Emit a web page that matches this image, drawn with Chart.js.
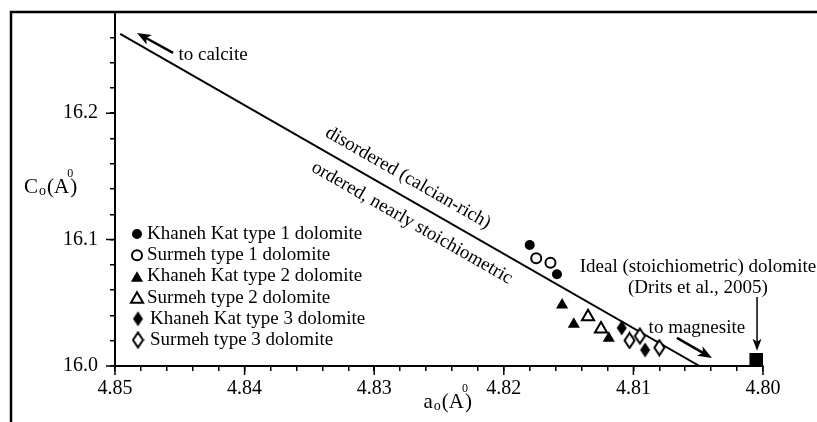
<!DOCTYPE html>
<html>
<head>
<meta charset="utf-8">
<script src="https://cdn.jsdelivr.net/npm/chart.js"></script>
<style>
  body { margin: 0; background: #fff; }
  canvas { display: block; }
</style>
</head>
<body>
<canvas id="chart" width="817" height="422"></canvas>
<script>
// valores (a0, c0 en Angstrom)
const khaneh1X = [4.8180, 4.8159];
const khaneh1Y = [16.0957, 16.0725];
const surmeh1X = [4.8175, 4.8164];
const surmeh1Y = [16.0852, 16.0817];
const khaneh2X = [4.8155, 4.8146, 4.8119];
const khaneh2Y = [16.0483, 16.0330, 16.0219];
const surmeh2X = [4.8135, 4.8125];
const surmeh2Y = [16.0390, 16.0293];
const khaneh3X = [4.8109, 4.8091];
const khaneh3Y = [16.0301, 16.0127];
const surmeh3X = [4.8103, 4.8095, 4.8080];
const surmeh3Y = [16.0202, 16.0237, 16.0145];
const idealX = [4.8005];
const idealY = [16.0047];
const lineX = [4.8496, 4.8049];
const lineY = [16.2627, 16.0];

const seriesLabels = [
  'Khaneh Kat type 1 dolomite',
  'Surmeh type 1 dolomite',
  'Khaneh Kat type 2 dolomite',
  'Surmeh type 2 dolomite',
  'Khaneh Kat type 3 dolomite',
  'Surmeh type 3 dolomite'
];
const xMajorTicks = [4.85, 4.84, 4.83, 4.82, 4.81, 4.80];
const yMajorTicks = [16.0, 16.1, 16.2];

const FONT = '"Liberation Serif", "Times New Roman", serif';

function pts(xs, ys) {
  return xs.map((x, i) => ({ x: x, y: ys[i] }));
}

// rombo alargado como imagen para pointStyle
function diamond(filled) {
  const c = document.createElement('canvas');
  c.width = 13; c.height = 18;
  const g = c.getContext('2d');
  g.beginPath();
  g.moveTo(6.5, 1.5); g.lineTo(11.5, 9); g.lineTo(6.5, 16.5); g.lineTo(1.5, 9);
  g.closePath();
  if (filled) {
    g.fillStyle = '#000'; g.fill();
  } else {
    g.fillStyle = '#fff'; g.fill();
    g.lineWidth = 2; g.strokeStyle = '#000'; g.stroke();
  }
  return c;
}
const filledDiamond = diamond(true);
const openDiamond = diamond(false);

const markerStyles = [
  { pointStyle: 'circle', radius: 5, fill: '#000', border: 0 },
  { pointStyle: 'circle', radius: 5, fill: '#fff', border: 2 },
  { pointStyle: 'triangle', radius: 7, fill: '#000', border: 0 },
  { pointStyle: 'triangle', radius: 7, fill: '#fff', border: 2 },
  { pointStyle: filledDiamond, radius: 6, fill: '#000', border: 0 },
  { pointStyle: openDiamond, radius: 6, fill: '#fff', border: 0 }
];
const seriesData = [
  pts(khaneh1X, khaneh1Y), pts(surmeh1X, surmeh1Y), pts(khaneh2X, khaneh2Y),
  pts(surmeh2X, surmeh2Y), pts(khaneh3X, khaneh3Y), pts(surmeh3X, surmeh3Y)
];

const datasets = seriesLabels.map((label, i) => ({
  label: label,
  data: seriesData[i],
  pointStyle: markerStyles[i].pointStyle,
  pointRadius: markerStyles[i].radius,
  pointBackgroundColor: markerStyles[i].fill,
  pointBorderColor: '#000',
  pointBorderWidth: markerStyles[i].border,
  order: 1
}));
datasets.push({
  label: 'Ideal',
  data: pts(idealX, idealY),
  pointStyle: 'rect',
  pointRadius: 10,
  pointBackgroundColor: '#000',
  pointBorderWidth: 0,
  order: 1
});
datasets.push({
  type: 'line',
  label: 'boundary',
  data: pts(lineX, lineY),
  borderColor: '#000',
  borderWidth: 2,
  pointRadius: 0,
  fill: false,
  order: 10
});

function drawArrow(ctx, x1, y1, x2, y2, lw, headLen, headW) {
  const ang = Math.atan2(y2 - y1, x2 - x1);
  ctx.save();
  ctx.strokeStyle = '#000';
  ctx.fillStyle = '#000';
  ctx.lineWidth = lw;
  ctx.beginPath();
  ctx.moveTo(x1, y1);
  ctx.lineTo(x2 - Math.cos(ang) * headLen * 0.7, y2 - Math.sin(ang) * headLen * 0.7);
  ctx.stroke();
  ctx.translate(x2, y2);
  ctx.rotate(ang);
  ctx.beginPath();
  ctx.moveTo(0, 0);
  ctx.lineTo(-headLen, -headW / 2);
  ctx.lineTo(-headLen * 0.75, 0);
  ctx.lineTo(-headLen, headW / 2);
  ctx.closePath();
  ctx.fill();
  ctx.restore();
}

// titulo tipo "Co (A°)" con subindice y el 0 encima
function unitTitle(ctx, letter, x, base) {
  ctx.save();
  ctx.fillStyle = '#000';
  ctx.textAlign = 'left';
  ctx.textBaseline = 'alphabetic';
  ctx.font = '21px ' + FONT;
  ctx.fillText(letter, x, base);
  x += ctx.measureText(letter).width + 1;
  ctx.font = '14px ' + FONT;
  ctx.fillText('o', x, base + 2);
  x += ctx.measureText('o').width + 1;
  ctx.font = '21px ' + FONT;
  ctx.fillText('(A', x, base);
  x += ctx.measureText('(A').width;
  ctx.font = '12px ' + FONT;
  ctx.fillText('0', x - 2, base - 16);
  ctx.font = '21px ' + FONT;
  ctx.fillText(')', x + 1, base);
  ctx.restore();
}

function drawMarker(ctx, st, x, y) {
  ctx.save();
  if (typeof st.pointStyle !== 'string') {
    ctx.drawImage(st.pointStyle, x - st.pointStyle.width / 2, y - st.pointStyle.height / 2);
    ctx.restore();
    return;
  }
  const r = st.radius;
  ctx.beginPath();
  if (st.pointStyle === 'circle') {
    ctx.arc(x, y, r, 0, Math.PI * 2);
  } else {
    for (let k = 0; k < 3; k++) {
      const a = -Math.PI / 2 + k * 2 * Math.PI / 3;
      const px = x + Math.cos(a) * r, py = y + r * 0.25 + Math.sin(a) * r;
      if (k === 0) ctx.moveTo(px, py); else ctx.lineTo(px, py);
    }
    ctx.closePath();
  }
  ctx.fillStyle = st.fill;
  ctx.fill();
  if (st.border > 0) {
    ctx.lineWidth = st.border;
    ctx.strokeStyle = '#000';
    ctx.stroke();
  }
  ctx.restore();
}

const decorPlugin = {
  id: 'decor',
  beforeDraw(chart) {
    const ctx = chart.ctx;
    ctx.save();
    ctx.fillStyle = '#fff';
    ctx.fillRect(0, 0, chart.width, chart.height);
    ctx.restore();
  },
  afterDraw(chart) {
    const ctx = chart.ctx;
    const xs = chart.scales.x, ys = chart.scales.y;
    const X = v => xs.getPixelForValue(v);
    const Y = v => ys.getPixelForValue(v);
    const area = chart.chartArea;

    // marco exterior
    ctx.save();
    ctx.strokeStyle = '#000';
    ctx.lineWidth = 2.5;
    ctx.beginPath();
    ctx.moveTo(11, chart.height);
    ctx.lineTo(11, 12);
    ctx.lineTo(chart.width, 12);
    ctx.stroke();

    // ticks mayores mas largos
    ctx.lineWidth = 1.5;
    ctx.beginPath();
    xMajorTicks.forEach(v => { ctx.moveTo(X(v), area.bottom); ctx.lineTo(X(v), area.bottom + 9); });
    yMajorTicks.forEach(v => { ctx.moveTo(area.left, Y(v)); ctx.lineTo(area.left - 9, Y(v)); });
    ctx.stroke();
    ctx.restore();

    // flechas
    drawArrow(ctx, X(4.84552), Y(16.2476), X(4.8483), Y(16.2634), 2.5, 14, 11);
    drawArrow(ctx, X(4.80664), Y(16.0222), X(4.80394), Y(16.0063), 2.5, 14, 11);
    drawArrow(ctx, X(4.80046), Y(16.0546), X(4.80046), Y(16.0120), 1.5, 12, 9);

    ctx.save();
    ctx.fillStyle = '#000';
    ctx.font = '19px ' + FONT;
    ctx.textBaseline = 'middle';
    ctx.textAlign = 'left';
    ctx.fillText('to calcite', X(4.8451), Y(16.246));
    ctx.textAlign = 'center';
    ctx.fillText('to magnesite', X(4.8051), Y(16.030));
    ctx.fillText('Ideal (stoichiometric) dolomite', X(4.80502), Y(16.0783));
    ctx.fillText('(Drits et al., 2005)', X(4.80502), Y(16.0617));

    // textos a lo largo de la recta
    const ang = Math.atan2(Y(lineY[1]) - Y(lineY[0]), X(lineX[1]) - X(lineX[0]));
    ctx.save();
    ctx.translate(X(4.82739), Y(16.1487));
    ctx.rotate(ang);
    ctx.fillText('disordered (calcian-rich)', 0, 0);
    ctx.restore();
    ctx.save();
    ctx.translate(X(4.82708), Y(16.1131));
    ctx.rotate(ang);
    ctx.fillText('ordered, nearly stoichiometric', 0, 0);
    ctx.restore();

    // leyenda
    ctx.textAlign = 'left';
    const lx = area.left + 22, ly = area.top + 222, step = 21.2;
    seriesLabels.forEach((label, i) => {
      const st = markerStyles[i];
      const yy = ly + i * step;
      drawMarker(ctx, st, lx + (i >= 4 ? 1 : 0), yy);
      ctx.fillText(label, lx + (i >= 4 ? 13 : 10), yy);
    });
    ctx.restore();

    unitTitle(ctx, 'C', 24, Y(16.137));
    unitTitle(ctx, 'a', X(4.8262), area.bottom + 42);
  }
};

new Chart(document.getElementById('chart'), {
  type: 'scatter',
  data: { datasets: datasets },
  options: {
    responsive: false,
    animation: false,
    devicePixelRatio: 1,
    layout: { padding: { left: 0, top: 12, right: 54, bottom: 0 } },
    plugins: { legend: { display: false }, tooltip: { enabled: false } },
    scales: {
      x: {
        type: 'linear',
        min: 4.80,
        max: 4.85,
        reverse: true,
        afterFit(scale) {
          scale.height = 56;
          scale.paddingLeft = 0; scale.paddingRight = 0;
          scale.paddingTop = 0; scale.paddingBottom = 0;
        },
        border: { display: true, color: '#000', width: 2 },
        grid: { display: true, drawOnChartArea: false, drawTicks: true, tickLength: 5, color: '#000', lineWidth: 1.5 },
        ticks: {
          stepSize: 0.002,
          autoSkip: false,
          maxRotation: 0,
          padding: 6,
          color: '#000',
          font: { family: FONT, size: 20 },
          callback(v) {
            return Math.abs(v * 100 - Math.round(v * 100)) < 1e-6 ? v.toFixed(2) : '';
          }
        }
      },
      y: {
        type: 'linear',
        min: 16.0,
        max: 16.28,
        afterFit(scale) {
          scale.width = 115;
          scale.paddingTop = 0; scale.paddingBottom = 0;
          scale.paddingLeft = 0; scale.paddingRight = 0;
        },
        border: { display: true, color: '#000', width: 2 },
        grid: { display: true, drawOnChartArea: false, drawTicks: true, tickLength: 5, color: '#000', lineWidth: 1.5 },
        ticks: {
          stepSize: 0.02,
          autoSkip: false,
          padding: 12,
          color: '#000',
          font: { family: FONT, size: 20 },
          callback(v) {
            return Math.abs(v * 10 - Math.round(v * 10)) < 1e-6 ? v.toFixed(1) : '';
          }
        }
      }
    }
  },
  plugins: [decorPlugin]
});
</script>
</body>
</html>
